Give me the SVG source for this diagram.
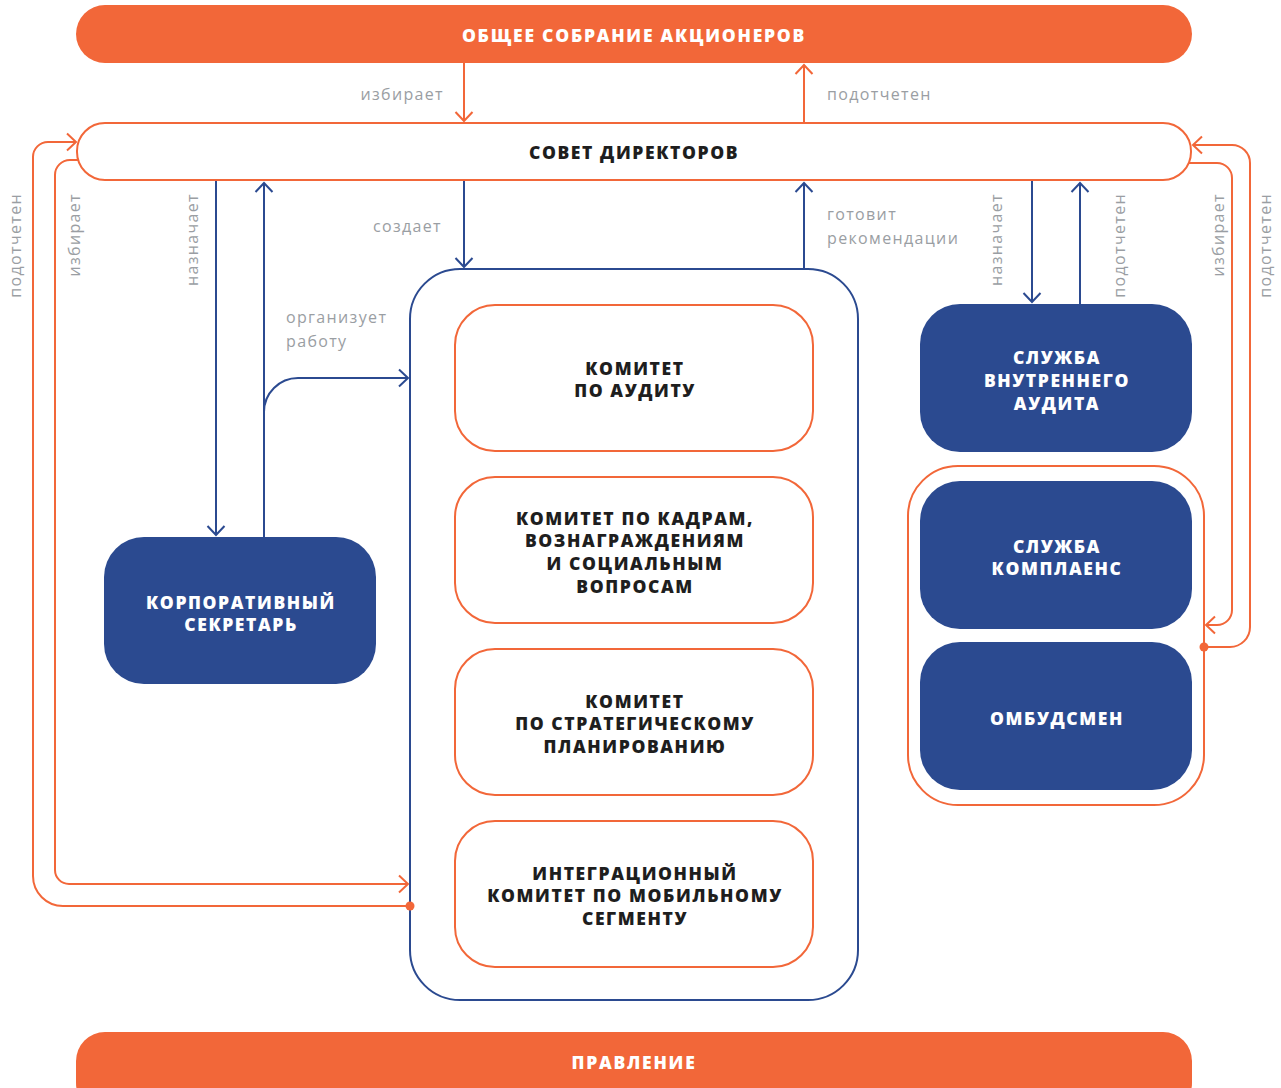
<svg xmlns="http://www.w3.org/2000/svg" width="1281" height="1088" viewBox="0 0 1281 1088">
<style>
.bar{fill:#F26739}
.barT{fill:#fff;font-family:"Open Sans","Noto Sans",sans-serif;font-weight:800;font-size:17.5px;text-anchor:middle;letter-spacing:1.75px}
.board{fill:#fff;stroke:#F26739;stroke-width:2}
.cont{fill:#fff;stroke:#2B4A90;stroke-width:2}
.com{fill:#fff;stroke:#F26739;stroke-width:2}
.grp{fill:#fff;stroke:#F26739;stroke-width:2}
.blue{fill:#2B4A90}
.dT{fill:#1E1E1E;font-family:"Open Sans","Noto Sans",sans-serif;font-weight:800;font-size:17.5px;text-anchor:middle;letter-spacing:1.6px}
.wT{fill:#fff;font-family:"Open Sans","Noto Sans",sans-serif;font-weight:800;font-size:17.5px;text-anchor:middle;letter-spacing:1.6px}
.lbl{fill:#9A9EA3;font-family:"Open Sans","Noto Sans",sans-serif;font-size:16px;letter-spacing:1.35px}
.co{fill:none;stroke:#F26739;stroke-width:2}
.cb{fill:none;stroke:#2B4A90;stroke-width:2}
</style>
<defs>
<marker id="ao" viewBox="0 0 20 20" refX="10" refY="10" markerWidth="20" markerHeight="20" orient="auto" markerUnits="userSpaceOnUse"><path d="M1,1.5 L10,10 L1,18.5" fill="none" stroke="#F26739" stroke-width="2"/></marker>
<marker id="ab" viewBox="0 0 20 20" refX="10" refY="10" markerWidth="20" markerHeight="20" orient="auto" markerUnits="userSpaceOnUse"><path d="M1,1.5 L10,10 L1,18.5" fill="none" stroke="#2B4A90" stroke-width="2"/></marker>
</defs>
<g id="gsm"><rect class="bar" x="76" y="5" width="1116" height="58" rx="29"/><text class="barT" x="634" y="42">ОБЩЕЕ СОБРАНИЕ АКЦИОНЕРОВ</text></g>
<g id="board"><rect class="board" x="77" y="123" width="1114" height="57" rx="28"/><text class="dT" x="634" y="159">СОВЕТ ДИРЕКТОРОВ</text></g>
<g id="committees"><rect class="cont" x="410" y="269" width="448" height="731" rx="50"/></g>
<g id="audit-committee"><rect class="com" x="455" y="305" width="358" height="146" rx="40"/><text class="dT" x="635" y="375">КОМИТЕТ</text><text class="dT" x="635" y="397">ПО АУДИТУ</text></g>
<g id="hr-committee"><rect class="com" x="455" y="477" width="358" height="146" rx="40"/><text class="dT" x="635" y="525">КОМИТЕТ ПО КАДРАМ,</text><text class="dT" x="635" y="547">ВОЗНАГРАЖДЕНИЯМ</text><text class="dT" x="635" y="570">И СОЦИАЛЬНЫМ</text><text class="dT" x="635" y="593">ВОПРОСАМ</text></g>
<g id="strategy-committee"><rect class="com" x="455" y="649" width="358" height="146" rx="40"/><text class="dT" x="635" y="708">КОМИТЕТ</text><text class="dT" x="635" y="730">ПО СТРАТЕГИЧЕСКОМУ</text><text class="dT" x="635" y="753">ПЛАНИРОВАНИЮ</text></g>
<g id="mobile-committee"><rect class="com" x="455" y="821" width="358" height="146" rx="40"/><text class="dT" x="635" y="880">ИНТЕГРАЦИОННЫЙ</text><text class="dT" x="635" y="902">КОМИТЕТ ПО МОБИЛЬНОМУ</text><text class="dT" x="635" y="925">СЕГМЕНТУ</text></g>
<g id="secretary"><rect class="blue" x="104" y="537" width="272" height="147" rx="40"/><text class="wT" x="241" y="609">КОРПОРАТИВНЫЙ</text><text class="wT" x="241" y="631">СЕКРЕТАРЬ</text></g>
<g id="internal-audit"><rect class="blue" x="920" y="304" width="272" height="148" rx="40"/><text class="wT" x="1057" y="364">СЛУЖБА</text><text class="wT" x="1057" y="387">ВНУТРЕННЕГО</text><text class="wT" x="1057" y="410">АУДИТА</text></g>
<g id="compliance-group"><rect class="grp" x="908" y="466" width="296" height="339" rx="50"/></g>
<g id="compliance"><rect class="blue" x="920" y="481" width="272" height="148" rx="40"/><text class="wT" x="1057" y="553">СЛУЖБА</text><text class="wT" x="1057" y="575">КОМПЛАЕНС</text></g>
<g id="ombudsman"><rect class="blue" x="920" y="642" width="272" height="148" rx="40"/><text class="wT" x="1057" y="725">ОМБУДСМЕН</text></g>
<g id="management"><rect class="bar" x="76" y="1032" width="1116" height="80" rx="29"/><text class="barT" x="634" y="1069">ПРАВЛЕНИЕ</text></g>
<g id="connectors">
<path class="co" d="M464,63 V121" marker-end="url(#ao)"/>
<path class="co" d="M804,123 V65" marker-end="url(#ao)"/>
<path class="co" d="M410,906 H63 A30,30 0 0 1 33,876 V157 A15,15 0 0 1 48,142 H76" marker-end="url(#ao)"/>
<path class="co" d="M79,160 H70 A15,15 0 0 0 55,175 V870 A14,14 0 0 0 69,884 H408" marker-end="url(#ao)"/>
<path class="co" d="M1189,163 H1217 A15,15 0 0 1 1232,178 V610 A15,15 0 0 1 1217,625 H1206" marker-end="url(#ao)"/>
<path class="co" d="M1204,647 H1230 A20,20 0 0 0 1250,627 V163 A18,18 0 0 0 1232,145 H1193" marker-end="url(#ao)"/>
<circle cx="410" cy="906" r="4.5" fill="#F26739"/>
<circle cx="1204" cy="647" r="4.5" fill="#F26739"/>
<path class="cb" d="M216,181 V535" marker-end="url(#ab)"/>
<path class="cb" d="M264,537 V183" marker-end="url(#ab)"/>
<path class="cb" d="M264,412 A34,34 0 0 1 298,378 H408" marker-end="url(#ab)"/>
<path class="cb" d="M464,181 V267" marker-end="url(#ab)"/>
<path class="cb" d="M804,269 V183" marker-end="url(#ab)"/>
<path class="cb" d="M1032,181 V302" marker-end="url(#ab)"/>
<path class="cb" d="M1080,304 V183" marker-end="url(#ab)"/>
</g>
<g id="labels">
<text class="lbl" x="444" y="100" text-anchor="end">избирает</text>
<text class="lbl" x="827" y="100">подотчетен</text>
<text class="lbl" x="442" y="232" text-anchor="end">создает</text>
<text class="lbl" x="827" y="220">готовит</text>
<text class="lbl" x="827" y="244">рекомендации</text>
<text class="lbl" x="286" y="323">организует</text>
<text class="lbl" x="286" y="347">работу</text>
<text class="lbl" text-anchor="end" transform="translate(21,193) rotate(-90)">подотчетен</text>
<text class="lbl" text-anchor="end" transform="translate(80,193) rotate(-90)">избирает</text>
<text class="lbl" text-anchor="end" transform="translate(198,193) rotate(-90)">назначает</text>
<text class="lbl" text-anchor="end" transform="translate(1002,193) rotate(-90)">назначает</text>
<text class="lbl" text-anchor="end" transform="translate(1125,193) rotate(-90)">подотчетен</text>
<text class="lbl" text-anchor="end" transform="translate(1224,193) rotate(-90)">избирает</text>
<text class="lbl" text-anchor="end" transform="translate(1271,193) rotate(-90)">подотчетен</text>
</g>
</svg>
